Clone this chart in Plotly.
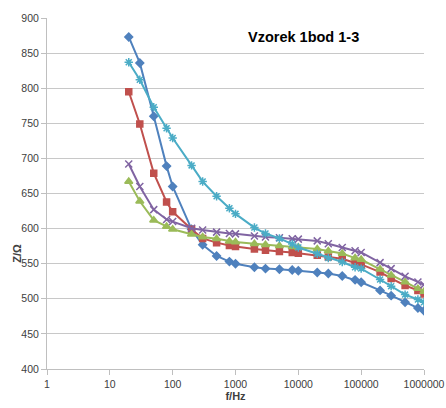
import plotly.graph_objects as go

freq = [20, 30, 50, 80, 100, 200, 300, 500, 800, 1000, 2000, 3000, 5000, 8000,
        10000, 20000, 30000, 50000, 80000, 100000, 200000, 300000, 500000, 800000, 1000000]

s_blue = [873, 836, 760, 689, 660, 599, 577, 561, 553, 550, 545, 543, 542, 541,
          540, 537.5, 536, 532.5, 527, 523.5, 512, 504.5, 495, 487, 483]
s_red = [795, 749, 679, 638, 624, 599, 586, 580, 576, 574.5, 571, 569, 567.5, 566,
         565, 562, 559.5, 557, 551, 549, 538, 529, 519, 512, 507]
s_green = [667, 639, 612, 603, 599, 592, 588, 585.5, 582, 581, 578.5, 577, 575.5, 574,
           573.5, 571, 568, 564.5, 558, 556, 542, 533.5, 524, 514.5, 510.5]
s_purple = [692, 660, 627, 613, 610, 600.5, 598, 595, 593, 592.5, 589.5, 588, 587, 585.5,
            585, 582.5, 578.5, 573, 568.5, 566, 551.5, 543, 532, 524, 520]
s_cyan = [837, 812, 773, 743, 729, 690, 667, 646, 629, 621, 601.5, 593, 586, 578,
          573, 564, 558, 552.5, 545, 543, 527.5, 518, 506, 499, 495]

x_tickvals = [1, 10, 100, 1000, 10000, 100000, 1000000]
x_ticktext = ["1", "10", "100", "1000", "10000", "100000", "1000000"]
y_tickvals = [400, 450, 500, 550, 600, 650, 700, 750, 800, 850, 900]

title_text = "Vzorek 1bod 1-3"
x_title = "f/Hz"
y_title = "Z/Ω"

series = [
    (s_blue, "#4F81BD", "diamond", 6),
    (s_red, "#C0504D", "square", 6),
    (s_green, "#9BBB59", "triangle-up", 7),
    (s_purple, "#8064A2", "x-thin-open", 7),
    (s_cyan, "#4BACC6", "asterisk-open", 7),
]

fig = go.Figure()
for vals, col, sym, sz in series:
    fig.add_trace(go.Scatter(
        x=freq, y=vals, mode="lines+markers",
        line=dict(color=col, width=2),
        marker=dict(symbol=sym, size=sz, color=col, line=dict(color=col, width=1.5)),
        showlegend=False,
    ))

font_fam = "Liberation Sans, Arial, sans-serif"
fig.update_layout(
    width=446, height=408,
    margin=dict(l=47, r=21.5, t=18, b=39, autoexpand=False),
    paper_bgcolor="white", plot_bgcolor="white",
    font=dict(family=font_fam, size=10.5, color="#404040"),
    xaxis=dict(
        type="log", range=[0, 6], automargin=False,
        tickvals=x_tickvals, ticktext=x_ticktext,
        showgrid=False, zeroline=False,
        showline=True, linecolor="#BFBFBF", linewidth=1,
        ticks="outside", ticklen=5, tickcolor="#BFBFBF",
        title=dict(text="<b>" + x_title + "</b>", font=dict(size=11, color="#404040"), standoff=3),
    ),
    yaxis=dict(
        range=[400, 900], tickvals=y_tickvals, automargin=False,
        showgrid=True, gridcolor="#C8C8C8", gridwidth=1,
        zeroline=False,
        showline=True, linecolor="#BFBFBF", linewidth=1,
        ticks="outside", ticklen=5, tickcolor="#BFBFBF",
    ),
    annotations=[
        dict(text="<b>" + title_text + "</b>", xref="paper", yref="paper",
             x=0.68, y=0.945, xanchor="center", yanchor="middle", showarrow=False,
             font=dict(size=14.5, color="#000000", family=font_fam)),
        dict(text="<b>" + y_title + "</b>", xref="paper", yref="paper",
             x=-0.078, y=0.33, xanchor="center", yanchor="middle", showarrow=False,
             textangle=-90, font=dict(size=11, color="#404040", family=font_fam)),
    ],
)

fig.write_html("out.html", config={"displayModeBar": False},
               post_script="document.body.style.margin='0';document.body.style.overflow='hidden';")
